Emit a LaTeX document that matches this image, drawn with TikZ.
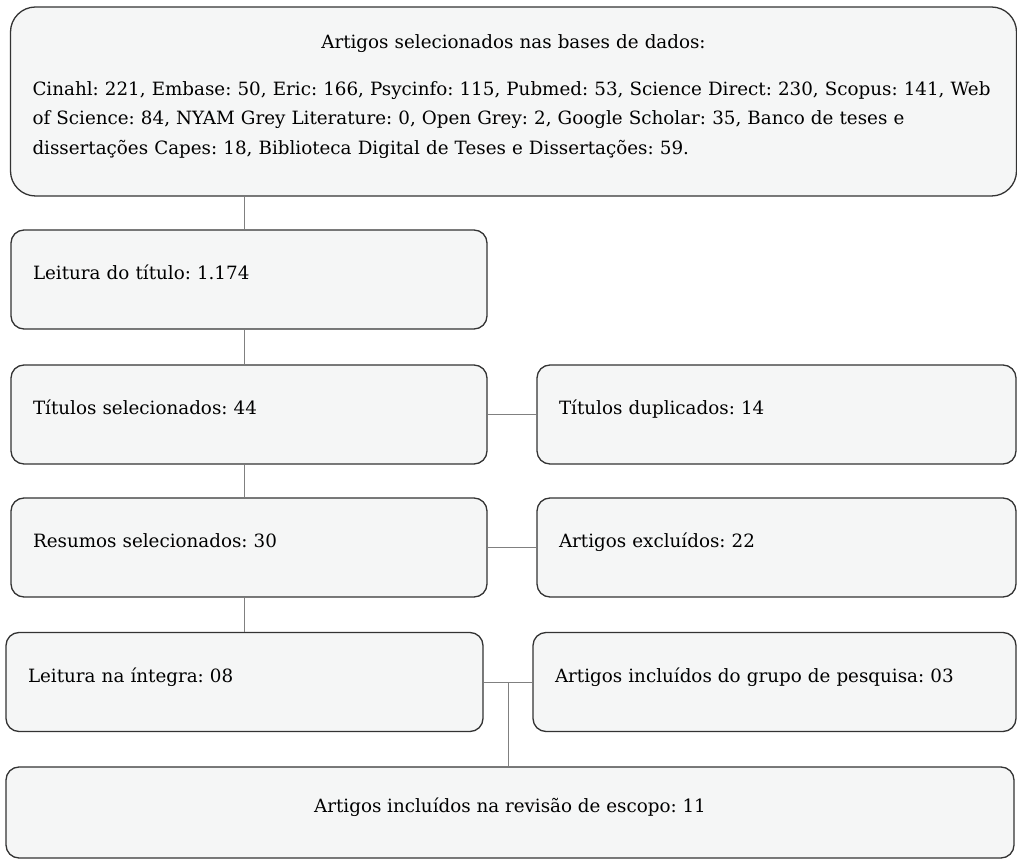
\documentclass[tikz,border=0pt]{standalone}
\usepackage{fontspec}
\setmainfont{DejaVu Serif}
\usepackage{tikz}
\usetikzlibrary{positioning, calc}

\definecolor{boxfill}{HTML}{F5F6F6}
\definecolor{boxline}{HTML}{333333}
\definecolor{linkgray}{HTML}{808080}
\frenchspacing

\begin{document}
\begin{tikzpicture}[x=1pt, y=1pt,
  stage/.style={draw=boxline, line width=1.3pt, fill=boxfill, rounded corners=13pt,
    minimum height=99pt, inner xsep=22pt, inner ysep=0pt, align=left, text depth=14pt,
    font=\fontsize{18.3}{29.5}\selectfont},
  link/.style={draw=linkgray, line width=1pt}]
\useasboundingbox (0,0) rectangle (1017,860);

% Top box: bases de dados
\node[stage, text depth=, rounded corners=25pt, minimum width=1005pt, minimum height=189pt,
  text width=962pt, align=center] (db) at (513.5,758.5)
  {Artigos selecionados nas bases de dados:\\[17.5pt]
   \makebox[962pt][s]{Cinahl: 221, Embase: 50, Eric: 166, Psycinfo: 115, Pubmed: 53, Science Direct: 230, Scopus: 141, Web}\\
   \makebox[962pt][s]{of Science: 84, NYAM Grey Literature: 0, Open Grey: 2, Google Scholar: 35, Banco de teses e}\\
   \makebox[962pt][l]{dissertações Capes: 18, Biblioteca Digital de Teses e Dissertações: 59.\rule[-14pt]{0pt}{1pt}}};

% Left column
\node[stage, minimum width=476pt, text width=432pt] (titulo) at (249,580.5) {Leitura do título: 1.174};
\node[stage, minimum width=476pt, text width=432pt] (sel) at (249,445.5) {Títulos selecionados: 44};
\node[stage, minimum width=476pt, text width=432pt] (resumo) at (249,312.5) {Resumos selecionados: 30};
\node[stage, minimum width=477pt, text width=433pt] (integra) at (244.5,178) {Leitura na íntegra: 08};

% Right column
\node[stage, minimum width=479pt, text width=435pt] (dup) at (776.5,445.5) {Títulos duplicados: 14};
\node[stage, minimum width=479pt, text width=435pt] (excl) at (776.5,312.5) {Artigos excluídos: 22};
\node[stage, minimum width=483pt, text width=439pt] (grupo) at (774.5,178) {Artigos incluídos do grupo de pesquisa: 03};

% Final box
\node[stage, minimum width=1008pt, minimum height=91pt, align=center] (final) at (510,47.5)
  {Artigos incluídos na revisão de escopo: 11};

% Connectors
\coordinate (spine) at (244,0);
\foreach \a/\b in {db/titulo, titulo/sel, sel/resumo, resumo/integra}{
  \draw[link] (\a.south -| spine) -- (\b.north -| spine);
}
\foreach \a/\b in {sel/dup, resumo/excl, integra/grupo}{
  \draw[link] (\a.east) -- (\b.west);
}
\coordinate (junc) at ($(integra.east)!0.5!(grupo.west)$);
\draw[link] (junc) -- (junc |- final.north);
\end{tikzpicture}
\end{document}
